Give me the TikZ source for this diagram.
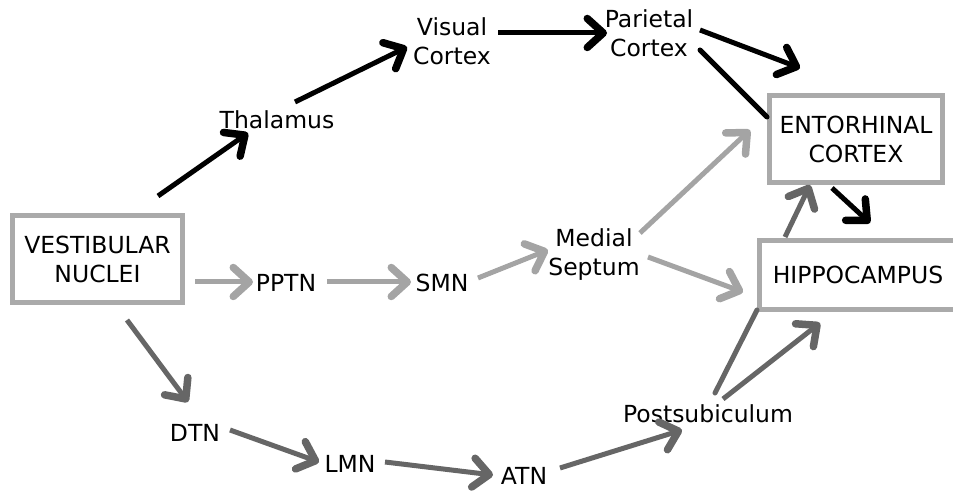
\documentclass[tikz,border=0pt]{standalone}
\usepackage{fontspec}
\setmainfont{DejaVu Sans}
\usetikzlibrary{arrows.meta}
\definecolor{lgray}{HTML}{A4A4A4}
\definecolor{dgray}{HTML}{666666}
\definecolor{boxgray}{HTML}{AAAAAA}
\begin{document}
\begin{tikzpicture}[x=1pt,y=1pt,
  every node/.style={font=\fontsize{23.5}{29}\selectfont, align=center, inner sep=2pt},
  region/.style={draw=boxgray, line width=5.5pt, fill=white, inner sep=0pt},
  tipped/.style={line width=5pt, -{Straight Barb[length=16pt,width=29pt,line width=7.5pt,round]}},
  plain/.style={line width=5pt, line cap=round},
  blk/.style={black},
  lgr/.style={lgray},
  dgr/.style={dgray}]
\useasboundingbox (0,0) rectangle (953,490);
% boxes
\node[region, minimum width=170pt, minimum height=87pt] (vest) at (97.5,231) {VESTIBULAR\\NUCLEI};
\node[region, minimum width=173pt, minimum height=87pt] (ent) at (856,351) {ENTORHINAL\\CORTEX};
\node[region, minimum width=197pt, minimum height=69pt] (hip) at (858,215) {HIPPOCAMPUS};
% text nodes
\node (thal) at (277,370) {Thalamus};
\node (vis) at (452,449) {Visual\\Cortex};
\node (par) at (649,457) {Parietal\\Cortex};
\node (pptn) at (286,207) {PPTN};
\node (smn) at (442,207) {SMN};
\node (med) at (594,235) {Medial\\Septum};
\node (dtn) at (195,57) {DTN};
\node (lmn) at (350,26) {LMN};
\node (atn) at (524,14) {ATN};
\node (post) at (708,76) {Postsubiculum};
% black connectors
\draw[tipped,blk] ([shift={(60.5,63)}]vest.center) -- ([shift={(-29,-13)}]thal.center);
\draw[tipped,blk] ([shift={(18,18)}]thal.center) -- ([shift={(-45,-6)}]vis.center);
\draw[tipped,blk] ([shift={(46,8)}]vis.center) -- ([shift={(-42,0)}]par.center);
\draw[tipped,blk] ([shift={(51,3)}]par.center) -- ([shift={(-56,71)}]ent.center);
\draw[plain,blk] ([shift={(51,-17)}]par.center) -- ([shift={(-89,22)}]ent.center);
\draw[tipped,blk] ([shift={(-24,-49)}]ent.center) -- ([shift={(12,52)}]hip.center);
% light grey connectors
\draw[tipped,lgr] ([shift={(97.5,-23)}]vest.center) -- ([shift={(-33,1)}]pptn.center);
\draw[tipped,lgr] ([shift={(41,1)}]pptn.center) -- ([shift={(-31,1)}]smn.center);
\draw[tipped,lgr] ([shift={(36,5)}]smn.center) -- ([shift={(-46,5)}]med.center);
\draw[tipped,lgr] ([shift={(46,22)}]med.center) -- ([shift={(-106,9)}]ent.center);
\draw[tipped,lgr] ([shift={(54,-2)}]med.center) -- ([shift={(-115,-17)}]hip.center);
% dark grey connectors
\draw[tipped,dgr] ([shift={(29.5,-61)}]vest.center) -- ([shift={(-7,31)}]dtn.center);
\draw[tipped,dgr] ([shift={(35,3)}]dtn.center) -- ([shift={(-31,2)}]lmn.center);
\draw[tipped,dgr] ([shift={(35,2)}]lmn.center) -- ([shift={(-31,1)}]atn.center);
\draw[tipped,dgr] ([shift={(36,8)}]atn.center) -- ([shift={(-26,-16)}]post.center);
\draw[plain,dgr] ([shift={(7,21)}]post.center) -- ([shift={(-101,-35)}]hip.center);
\draw[tipped,dgr] ([shift={(15,15)}]post.center) -- ([shift={(-38,-48)}]hip.center);
\draw[tipped,dgr] ([shift={(-73,38)}]hip.center) -- ([shift={(-46,-46)}]ent.center);
\end{tikzpicture}
\end{document}
